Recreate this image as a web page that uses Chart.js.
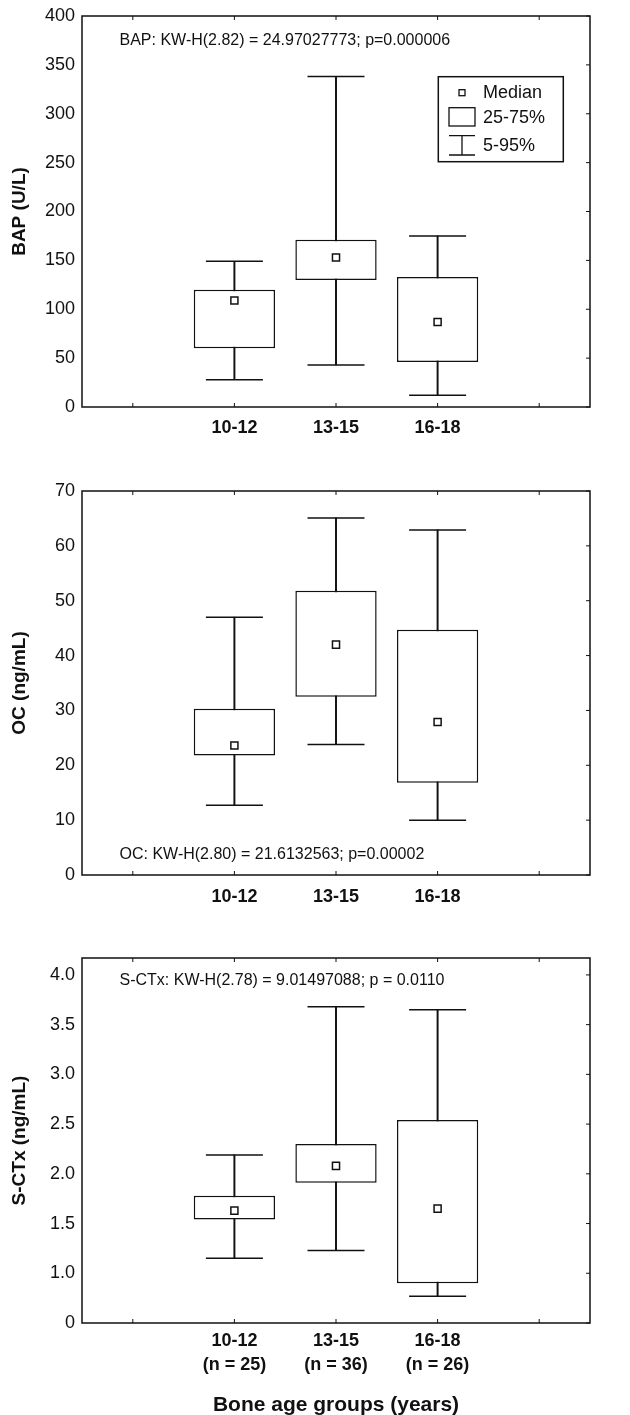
<!DOCTYPE html>
<html>
<head>
<meta charset="utf-8">
<script src="https://cdn.jsdelivr.net/npm/chart.js@4.4.0/dist/chart.umd.min.js"></script>
<style>
html, body { margin:0; padding:0; background:#fff; overflow:hidden; }
#wrap { position:relative; width:630px; height:1415px; overflow:hidden; }
canvas { position:absolute; left:0; }
</style>
</head>
<body>
<div id="wrap">
  <canvas id="c-bap" width="630" height="460" style="top:0px"></canvas>
  <canvas id="c-oc" width="630" height="460" style="top:470px"></canvas>
  <canvas id="c-ctx" width="630" height="476" style="top:940px"></canvas>
</div>
<script>
// ====================== DATA ======================
const groups  = ['', '10-12', '13-15', '16-18', ''];
const groupsN = ['', ['10-12','(n = 25)'], ['13-15','(n = 36)'], ['16-18','(n = 26)'], ''];

// BAP (U/L)
const bapP5  = [null, 28, 43, 12, null];
const bapQ1  = [null, 60, 130, 46, null];
const bapMed = [null, 109, 153, 87, null];
const bapQ3  = [null, 120, 171, 133, null];
const bapP95 = [null, 149, 338, 175, null];
const bapTicks = [0, 50, 100, 150, 200, 250, 300, 350, 400];
const bapTickLabels = ['0','50','100','150','200','250','300','350','400'];

// OC (ng/mL)
const ocP5  = [null, 12.7, 23.8, 10.0, null];
const ocQ1  = [null, 21.8, 32.5, 16.8, null];
const ocMed = [null, 23.6, 42.0, 27.9, null];
const ocQ3  = [null, 30.3, 51.8, 44.7, null];
const ocP95 = [null, 47.0, 65.1, 62.9, null];
const ocTicks = [0, 10, 20, 30, 40, 50, 60, 70];
const ocTickLabels = ['0','10','20','30','40','50','60','70'];

// S-CTx (ng/mL) – axis starts at 0.5 but the bottom tick reads "0"
const ctxP5  = [null, 1.15, 1.23, 0.77, null];
const ctxQ1  = [null, 1.54, 1.91, 0.90, null];
const ctxMed = [null, 1.63, 2.08, 1.65, null];
const ctxQ3  = [null, 1.78, 2.30, 2.54, null];
const ctxP95 = [null, 2.19, 3.68, 3.65, null];
const ctxTicks = [0.5, 1.0, 1.5, 2.0, 2.5, 3.0, 3.5, 4.0];
const ctxTickLabels = ['0','1.0','1.5','2.0','2.5','3.0','3.5','4.0'];

const INK = '#111';
const FONT = '"Liberation Sans", Arial, Helvetica, sans-serif';

// ====================== FRAME / TICKS / NOTE / LEGEND ======================
const framePlugin = {
  id: 'frame',
  afterDraw(chart, args, opts) {
    const { ctx, chartArea: a, scales: { x, y } } = chart;
    ctx.save();
    ctx.strokeStyle = INK;
    ctx.lineWidth = 1.5;
    ctx.strokeRect(a.left, a.top, a.right - a.left, a.bottom - a.top);

    // inward tick marks
    ctx.lineWidth = 1;
    ctx.beginPath();
    x.ticks.forEach((t, i) => {
      const px = x.getPixelForTick(i);
      ctx.moveTo(px, a.bottom); ctx.lineTo(px, a.bottom - 4);
      ctx.moveTo(px, a.top);    ctx.lineTo(px, a.top + 4);
    });
    y.ticks.forEach((t, i) => {
      const py = y.getPixelForTick(i);
      ctx.moveTo(a.right, py); ctx.lineTo(a.right - 4, py);
    });
    ctx.stroke();

    // statistic note
    ctx.fillStyle = INK;
    ctx.font = '16px ' + FONT;
    ctx.textAlign = 'left';
    ctx.textBaseline = 'middle';
    const ny = opts.noteAt === 'bottom' ? a.bottom - opts.noteOff : a.top + opts.noteOff;
    ctx.fillText(opts.note, a.left + 37.5, ny);

    if (opts.legend) {
      const L = a.right - 151.7, T = a.top + 60.7;
      ctx.lineWidth = 1.5;
      ctx.strokeRect(L, T, 125, 85);
      ctx.lineWidth = 1.3;
      ctx.strokeRect(L + 20.7, T + 13, 6, 6);          // median marker
      ctx.strokeRect(L + 10.7, T + 31, 26, 18.3);      // 25-75% box
      ctx.beginPath();                                  // 5-95% whisker
      ctx.moveTo(L + 10.7, T + 59);   ctx.lineTo(L + 36.7, T + 59);
      ctx.moveTo(L + 23.7, T + 59);   ctx.lineTo(L + 23.7, T + 78.3);
      ctx.moveTo(L + 10.7, T + 78.3); ctx.lineTo(L + 36.7, T + 78.3);
      ctx.stroke();
      ctx.font = '18px ' + FONT;
      ctx.fillText('Median', L + 44.7, T + 16.5);
      ctx.fillText('25-75%', L + 44.7, T + 41.5);
      ctx.fillText('5-95%',  L + 44.7, T + 69.5);
    }
    ctx.restore();
  }
};

// ====================== CHART BUILDER ======================
function boxChart(id, d) {
  const range = (lo, hi) => lo.map((v, i) => v == null ? null : [v, hi[i]]);
  return new Chart(document.getElementById(id), {
    type: 'bar',
    data: {
      labels: d.labels,
      datasets: [
        { type:'line', data:d.med, showLine:false, pointStyle:'rect', pointRadius:5,
          pointBackgroundColor:'#fff', pointBorderColor:INK, pointBorderWidth:1.5, order:0 },
        { type:'bar', data:range(d.q1, d.q3), backgroundColor:'#fff', borderColor:INK,
          borderWidth:1.5, borderSkipped:false, barPercentage:0.8, categoryPercentage:1,
          grouped:false, order:1 },
        { type:'bar', data:range(d.p5, d.p95), backgroundColor:INK, borderWidth:0,
          barThickness:1.3, grouped:false, order:2 },
        { type:'line', data:d.p95, showLine:false, pointStyle:'line', pointRadius:28.5,
          pointBorderColor:INK, pointBorderWidth:1.5, order:2 },
        { type:'line', data:d.p5, showLine:false, pointStyle:'line', pointRadius:28.5,
          pointBorderColor:INK, pointBorderWidth:1.5, order:2 }
      ]
    },
    options: {
      responsive:false,
      animation:false,
      layout:{ autoPadding:false, padding:{ left:0, right:40, top:d.top, bottom:0 } },
      plugins:{ legend:{ display:false }, tooltip:{ enabled:false }, frame:d.frame },
      scales:{
        x:{
          type:'category', offset:true,
          grid:{ display:false, drawTicks:false }, border:{ display:false },
          ticks:{ color:INK, font:{ family:FONT, size:18, weight:'bold', lineHeight:1.28 }, padding:d.xPad,
                  maxRotation:0, autoSkip:false },
          title:{ display:!!d.xTitle, text:d.xTitle || '', color:INK,
                  font:{ family:FONT, size:21, weight:'bold', lineHeight:1 }, padding:{ top:0, bottom:0 } },
          afterFit: s => { s.height = d.xH; s.paddingLeft = 0; s.paddingRight = 0; }
        },
        y:{
          type:'linear', min:d.min, max:d.max,
          grid:{ display:false, drawTicks:false }, border:{ display:false },
          afterBuildTicks: s => { s.ticks = d.ticks.map(v => ({ value:v })); },
          ticks:{ color:INK, font:{ family:FONT, size:18 }, padding:7,
                  callback: v => d.tickLabels[d.ticks.indexOf(v)] },
          title:{ display:true, text:d.yTitle, color:INK,
                  font:{ family:FONT, size:19, weight:'bold' }, padding:{ top:8, bottom:0 } },
          afterFit: s => { s.width = 82; s.paddingTop = 0; s.paddingBottom = 0; }
        }
      }
    },
    plugins:[framePlugin]
  });
}

boxChart('c-bap', {
  labels:groups, p5:bapP5, q1:bapQ1, med:bapMed, q3:bapQ3, p95:bapP95,
  min:0, max:400, ticks:bapTicks, tickLabels:bapTickLabels, yTitle:'BAP (U/L)',
  top:16, xH:53, xPad:10,
  frame:{ note:'BAP: KW-H(2.82) = 24.97027773; p=0.000006', noteAt:'top', noteOff:25, legend:true }
});

boxChart('c-oc', {
  labels:groups, p5:ocP5, q1:ocQ1, med:ocMed, q3:ocQ3, p95:ocP95,
  min:0, max:70, ticks:ocTicks, tickLabels:ocTickLabels, yTitle:'OC (ng/mL)',
  top:21, xH:55, xPad:11,
  frame:{ note:'OC: KW-H(2.80) = 21.6132563; p=0.00002', noteAt:'bottom', noteOff:20, legend:false }
});

boxChart('c-ctx', {
  labels:groupsN, p5:ctxP5, q1:ctxQ1, med:ctxMed, q3:ctxQ3, p95:ctxP95,
  min:0.5, max:4.17, ticks:ctxTicks, tickLabels:ctxTickLabels, yTitle:'S-CTx (ng/mL)',
  top:18, xH:93, xPad:7, xTitle:'Bone age groups (years)',
  frame:{ note:'S-CTx: KW-H(2.78) = 9.01497088; p = 0.0110', noteAt:'top', noteOff:23, legend:false }
});
</script>
</body>
</html>
